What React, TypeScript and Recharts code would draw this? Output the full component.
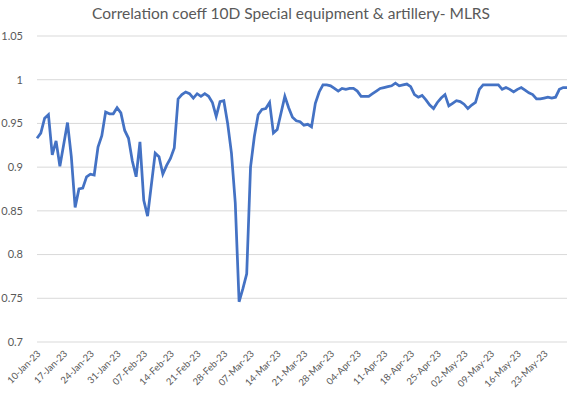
import { CartesianGrid, Line, LineChart, XAxis, YAxis } from 'recharts';

const chartTitle = 'Correlation coeff 10D Special equipment & artillery- MLRS';

// one tick per week, data is daily (7 points per label)
const weekLabels = [
  '10-Jan-23', '17-Jan-23', '24-Jan-23', '31-Jan-23', '07-Feb-23',
  '14-Feb-23', '21-Feb-23', '28-Feb-23', '07-Mar-23', '14-Mar-23',
  '21-Mar-23', '28-Mar-23', '04-Apr-23', '11-Apr-23', '18-Apr-23',
  '25-Apr-23', '02-May-23', '09-May-23', '16-May-23', '23-May-23',
];

const yTicks = [0.7, 0.75, 0.8, 0.85, 0.9, 0.95, 1, 1.05];

const correlation = [
  0.933, 0.939, 0.956, 0.960, 0.914, 0.930, 0.901,
  0.926, 0.951, 0.912, 0.854, 0.875, 0.876, 0.889,
  0.892, 0.891, 0.923, 0.936, 0.963, 0.961, 0.961,
  0.968, 0.962, 0.942, 0.933, 0.907, 0.889, 0.929,
  0.862, 0.844, 0.880, 0.916, 0.912, 0.892, 0.902,
  0.910, 0.922, 0.978, 0.983, 0.986, 0.984, 0.979,
  0.984, 0.981, 0.984, 0.981, 0.974, 0.958, 0.975,
  0.976, 0.950, 0.916, 0.859, 0.746, 0.761, 0.778,
  0.900, 0.935, 0.960, 0.966, 0.967, 0.974, 0.939,
  0.943, 0.962, 0.981, 0.968, 0.957, 0.953, 0.952,
  0.948, 0.949, 0.946, 0.973, 0.986, 0.994, 0.994,
  0.993, 0.990, 0.987, 0.990, 0.989, 0.990, 0.990,
  0.987, 0.981, 0.981, 0.981, 0.984, 0.987, 0.990,
  0.991, 0.992, 0.993, 0.996, 0.993, 0.994, 0.995,
  0.992, 0.983, 0.980, 0.982, 0.977, 0.971, 0.967,
  0.974, 0.979, 0.983, 0.970, 0.973, 0.976, 0.975,
  0.972, 0.967, 0.971, 0.974, 0.989, 0.994, 0.994,
  0.994, 0.994, 0.994, 0.989, 0.991, 0.989, 0.986,
  0.989, 0.991, 0.988, 0.985, 0.983, 0.978, 0.978,
  0.979, 0.980, 0.979, 0.980, 0.989, 0.991, 0.991,
];

const data = correlation.map((value, day) => ({ day, value }));
const xTicks = weekLabels.map((_, i) => i * 7);

const FONT = 'Lato, "Open Sans", sans-serif';
const GREY = '#595959';

function DateTick({ x, y, payload }: any) {
  return (
    <g transform={`translate(${x},${y})`}>
      <text
        dy={6}
        fill={GREY}
        fontFamily={FONT}
        fontSize={9.5}
        textAnchor='end'
        transform='rotate(-45)'
      >
        {weekLabels[payload.value / 7]}
      </text>
    </g>
  );
}

export default function App() {
  return (
    <div style={{ position: 'absolute', left: 0, top: 0, width: 582, height: 396, background: '#fff' }}>
      <div
        style={{
          position: 'absolute',
          top: 4,
          left: 0,
          width: 582,
          textAlign: 'center',
          fontFamily: FONT,
          fontSize: 15.5,
          color: GREY,
        }}
      >
        {chartTitle}
      </div>
      <LineChart
        data={data}
        height={396}
        margin={{ top: 36, right: 15, bottom: 0, left: 0 }}
        width={582}
      >
        <CartesianGrid
          stroke='#d9d9d9'
          vertical={false}
        />
        <XAxis
          axisLine={false}
          dataKey='day'
          domain={[0, correlation.length - 1]}
          height={54}
          interval={0}
          tick={<DateTick />}
          tickLine={false}
          ticks={xTicks}
          type='number'
        />
        <YAxis
          axisLine={false}
          domain={[0.7, 1.05]}
          tick={{ fill: GREY, fontFamily: FONT, fontSize: 11 }}
          tickFormatter={v => String(Number(v.toFixed(2)))}
          tickLine={false}
          tickMargin={8}
          ticks={yTicks}
          width={37}
        />
        <Line
          dataKey='value'
          dot={false}
          isAnimationActive={false}
          stroke='#4472c4'
          strokeWidth={2.75}
          type='linear'
        />
      </LineChart>
    </div>
  );
}
